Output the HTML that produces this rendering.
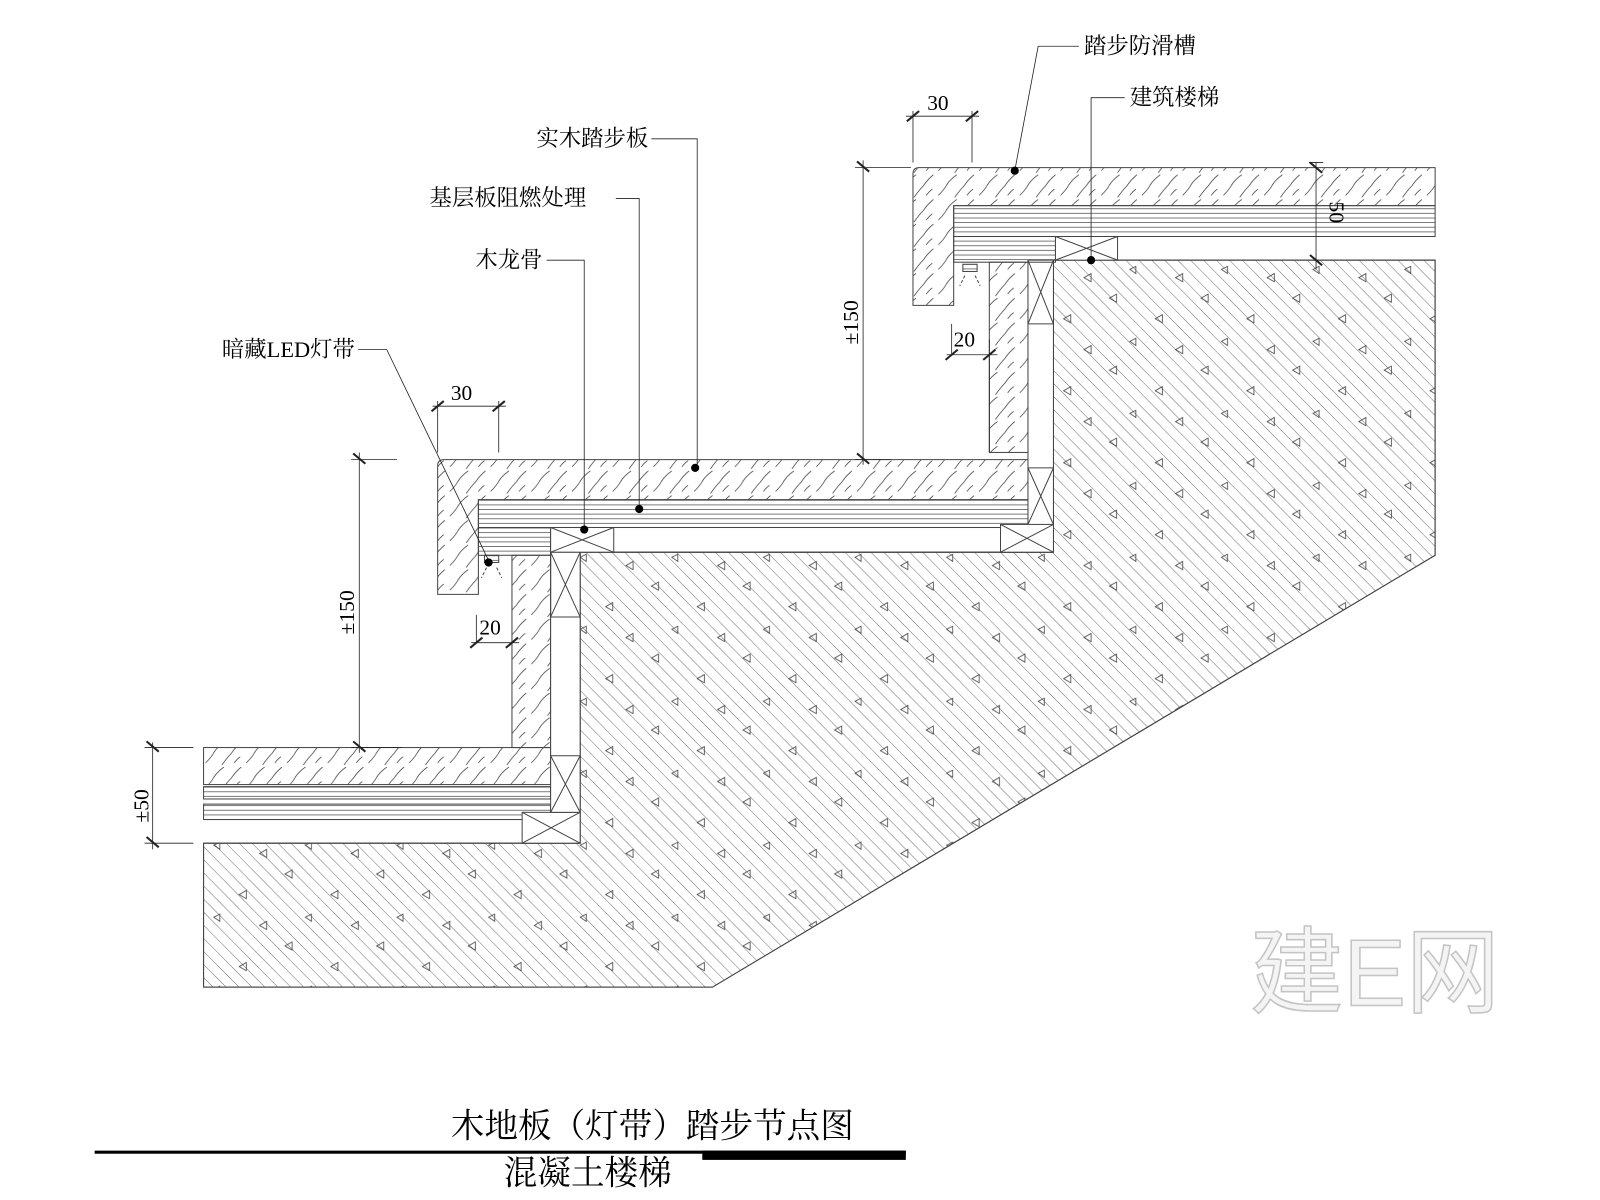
<!DOCTYPE html>
<html><head><meta charset="utf-8"><style>
html,body{margin:0;padding:0;background:#fff;width:1600px;height:1200px;overflow:hidden}
svg{display:block}
text{font-family:"Liberation Serif","Noto Serif CJK SC",serif;fill:#000}
</style></head><body>
<svg width="1600" height="1200" viewBox="0 0 1572 1167" preserveAspectRatio="none" xmlns="http://www.w3.org/2000/svg">
<defs>
<pattern id="conc" width="9" height="9" patternUnits="userSpaceOnUse" patternTransform="rotate(-45)">
<line x1="0" y1="0" x2="0" y2="9" stroke="#333" stroke-width="0.7"/>
</pattern>
<pattern id="tri" width="90" height="70" patternUnits="userSpaceOnUse">
<path d="M10 10 l7 -4 l0 8 z M55 30 l7 -4 l0 8 z M30 52 l6 -3 l0 7 z M75 60 l7 -4 l0 8z" fill="none" stroke="#444" stroke-width="0.8"/>
</pattern>
<pattern id="wood" width="40" height="24" patternUnits="userSpaceOnUse">
<path d="M2 22 q6 -6 8 -10 q3 -5 10 -10 M18 24 q5 -7 9 -11 q4 -6 10 -11 M30 22 q3 -4 6 -6" fill="none" stroke="#333" stroke-width="0.7"/>
</pattern>
<pattern id="ply" width="10" height="4.5" patternUnits="userSpaceOnUse">
<line x1="0" y1="0.5" x2="10" y2="0.5" stroke="#444" stroke-width="0.7"/>
</pattern>
</defs>
<text x="1228" y="978" font-size="92" style="fill:#f4f4f4;stroke:#c4c4c4;stroke-width:1.5;font-family:'Liberation Sans','Noto Sans CJK SC',sans-serif">建E网</text>
<g stroke="#444" stroke-width="1" fill="none">
<path d="M200 820 H570 V537 H1035 V253 H1410 V540 L700 960 H200 Z" fill="url(#conc)"/>
<path d="M200 820 H570 V537 H1035 V253 H1410 V540 L700 960 H200 Z" fill="url(#tri)"/>
<rect x="200" y="727" width="341" height="36" fill="url(#wood)"/>
<rect x="200" y="765" width="341" height="12" fill="url(#ply)"/>
<rect x="200" y="782" width="341" height="15" fill="url(#ply)"/>
<line x1="200" y1="797" x2="513" y2="797"/>
<rect x="513" y="790" width="57" height="30" fill="#fff"/><path d="M513 790 L570 820 M513 820 L570 790"/>
<rect x="503" y="540" width="38" height="187" fill="url(#wood)"/>
<rect x="541" y="537" width="29" height="253" fill="#fff"/>
<path d="M541 537 V600 H570 M541 537 L570 600 M570 537 L541 600 M541 735 H570 M541 735 L570 790 M570 735 L541 790"/>
<path d="M430 453 q0 -6 6 -6 H1010 V486 H470 V578 H430 Z" fill="url(#wood)"/>
<rect x="470" y="486" width="540" height="27" fill="url(#ply)"/>
<rect x="470" y="513" width="71" height="27" fill="url(#ply)"/>
<line x1="603" y1="537" x2="1010" y2="537"/><line x1="603" y1="513" x2="1010" y2="513"/>
<rect x="541" y="513" width="62" height="24" fill="#fff"/><path d="M541 513 L603 537 M541 537 L603 513"/>
<rect x="972" y="255" width="38" height="185" fill="url(#wood)"/>
<rect x="1010" y="253" width="25" height="284" fill="#fff"/>
<path d="M1010 315 H1035 M1010 253 L1035 315 M1035 253 L1010 315 M1010 455 H1035 M1010 455 L1035 510 M1035 455 L1010 510"/>
<rect x="983" y="510" width="52" height="27" fill="#fff"/><path d="M983 510 L1035 537 M983 537 L1035 510"/>
<path d="M897 169 q0 -6 6 -6 H1410 V200 H937 V297 H897 Z" fill="url(#wood)"/>
<rect x="937" y="200" width="473" height="30" fill="url(#ply)"/>
<rect x="937" y="230" width="100" height="25" fill="url(#ply)"/>
<line x1="1098" y1="230" x2="1410" y2="230"/><line x1="1098" y1="253" x2="1410" y2="253"/>
<rect x="1037" y="230" width="61" height="23" fill="#fff"/><path d="M1037 230 L1098 253 M1037 253 L1098 230"/>
<rect x="476" y="540" width="14" height="7" fill="url(#ply)"/><rect x="946" y="257" width="14" height="7" fill="url(#ply)"/>
<path d="M478 552 l-5 10 M488 552 l5 10 M948 268 l-5 10 M958 268 l5 10" stroke-dasharray="3 2"/>
</g>
<g stroke="#222" stroke-width="0.8">
<path d="M1293 158 V262 M1286 158 H1300 M848 156 V452 M840 163 H895 M840 447 H875 M890 113 H962 M897 108 V158 M955 108 V158 M930 345 H980 M935 315 V345 M972 330 V440
M353 440 V732 M345 447 H390 M345 727 H395 M425 395 H497 M430 390 V440 M490 390 V440 M463 625 H510 M468 598 V625 M150 722 V826 M142 727 H190 M142 820 H190"/>
<path stroke-width="2" d="M1287 158 l12 10 M1287 248 l12 10 M842 157 l12 10 M842 441 l12 10 M891 118 l12 -10 M949 118 l12 -10 M929 350 l12 -10 M966 350 l12 -10 M347 441 l12 10 M347 721 l12 10 M424 400 l12 -10 M484 400 l12 -10 M462 630 l12 -10 M497 630 l12 -10 M144 721 l12 10 M144 814 l12 10"/>
</g>
<g font-size="21">
<text x="911" y="107">30</text>
<text x="937" y="337">20</text>
<text x="443" y="389">30</text>
<text x="471" y="617">20</text>
<text transform="translate(1306,196) rotate(90)">50</text>
<text transform="translate(843,335) rotate(-90)">±150</text>
<text transform="translate(348,617) rotate(-90)">±150</text>
<text transform="translate(146,800) rotate(-90)">±50</text>
</g>
<g stroke="#222" stroke-width="0.8" fill="none">
<path d="M1060 45 H1020 L997 166 M1105 95 H1072 V253 M640 135 H685 V455 M605 193 H628 V495 M537 253 H574 V515 M352 340 H380 L480 545"/>
</g>
<g fill="#000"><circle cx="997" cy="166" r="4"/><circle cx="1072" cy="253" r="4"/><circle cx="683" cy="455" r="4"/><circle cx="628" cy="495" r="4"/><circle cx="574" cy="515" r="4"/><circle cx="480" cy="547" r="4"/></g>
<g font-size="22">
<text x="1065" y="52">踏步防滑槽</text>
<text x="1110" y="102">建筑楼梯</text>
<text x="527" y="142">实木踏步板</text>
<text x="422" y="200">基层板阻燃处理</text>
<text x="467" y="260">木龙骨</text>
<text x="218" y="347">暗藏LED灯带</text>
</g>
<text x="443" y="1106" font-size="33">木地板（灯带）踏步节点图</text>
<rect x="93" y="1119" width="797" height="3" fill="#000"/>
<rect x="690" y="1119" width="200" height="9" fill="#000"/>
<text x="495" y="1152" font-size="33">混凝土楼梯</text>
</svg>
</body></html>
